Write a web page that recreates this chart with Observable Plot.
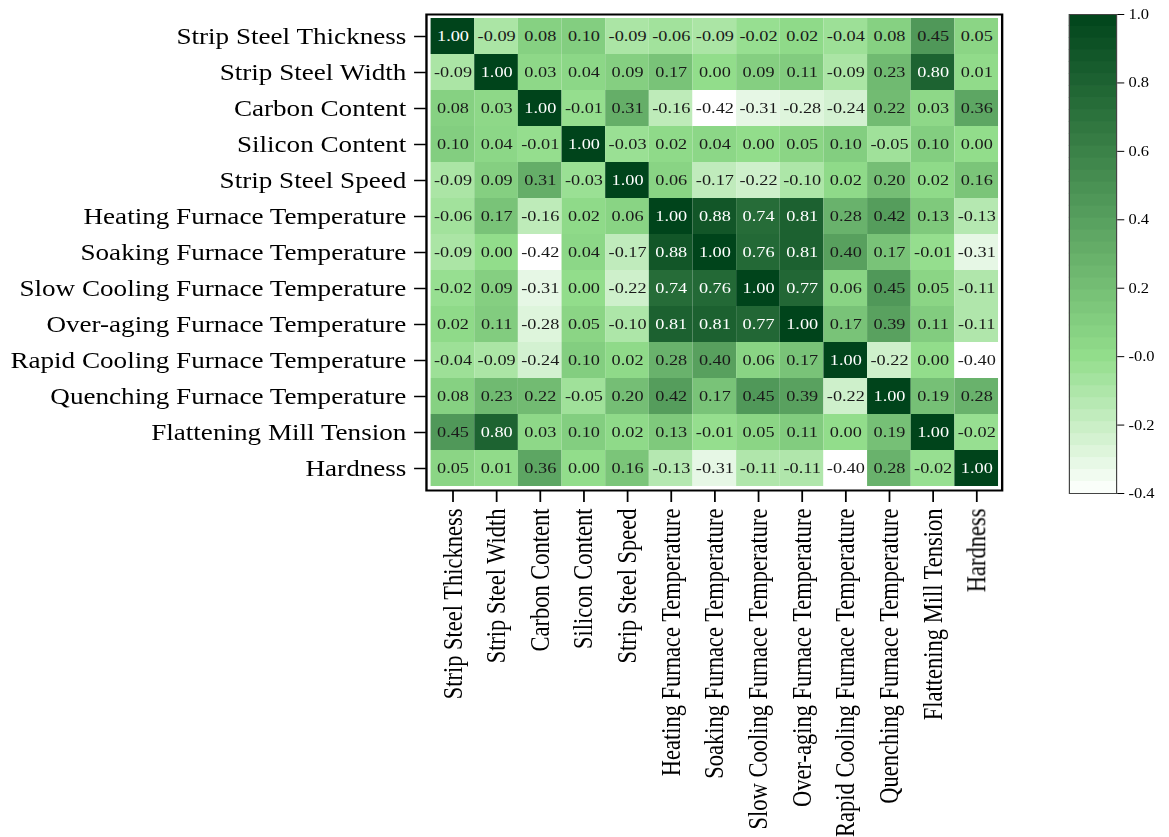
<!DOCTYPE html>
<html><head><meta charset="utf-8">
<script src="https://cdn.jsdelivr.net/npm/d3@7"></script>
<script src="https://cdn.jsdelivr.net/npm/@observablehq/plot@0.6"></script>
<style>
body{margin:0;background:#fff;overflow:hidden;}
#wrap{position:relative;width:991px;height:837px;transform:scaleX(1.1797);transform-origin:0 0;}
#wrap svg{position:absolute;left:0;top:0;background:transparent;}
</style></head><body><div id="wrap"></div>
<script>
const variables = [
  "Strip Steel Thickness","Strip Steel Width","Carbon Content","Silicon Content","Strip Steel Speed",
  "Heating Furnace Temperature","Soaking Furnace Temperature","Slow Cooling Furnace Temperature",
  "Over-aging Furnace Temperature","Rapid Cooling Furnace Temperature","Quenching Furnace Temperature",
  "Flattening Mill Tension","Hardness"
];
const rowThickness = [1.00,-0.09,0.08,0.10,-0.09,-0.06,-0.09,-0.02,0.02,-0.04,0.08,0.45,0.05];
const rowWidth     = [-0.09,1.00,0.03,0.04,0.09,0.17,0.00,0.09,0.11,-0.09,0.23,0.80,0.01];
const rowCarbon    = [0.08,0.03,1.00,-0.01,0.31,-0.16,-0.42,-0.31,-0.28,-0.24,0.22,0.03,0.36];
const rowSilicon   = [0.10,0.04,-0.01,1.00,-0.03,0.02,0.04,0.00,0.05,0.10,-0.05,0.10,0.00];
const rowSpeed     = [-0.09,0.09,0.31,-0.03,1.00,0.06,-0.17,-0.22,-0.10,0.02,0.20,0.02,0.16];
const rowHeating   = [-0.06,0.17,-0.16,0.02,0.06,1.00,0.88,0.74,0.81,0.28,0.42,0.13,-0.13];
const rowSoaking   = [-0.09,0.00,-0.42,0.04,-0.17,0.88,1.00,0.76,0.81,0.40,0.17,-0.01,-0.31];
const rowSlow      = [-0.02,0.09,-0.31,0.00,-0.22,0.74,0.76,1.00,0.77,0.06,0.45,0.05,-0.11];
const rowOverAging = [0.02,0.11,-0.28,0.05,-0.10,0.81,0.81,0.77,1.00,0.17,0.39,0.11,-0.11];
const rowRapid     = [-0.04,-0.09,-0.24,0.10,0.02,0.28,0.40,0.06,0.17,1.00,-0.22,0.00,-0.40];
const rowQuenching = [0.08,0.23,0.22,-0.05,0.20,0.42,0.17,0.45,0.39,-0.22,1.00,0.19,0.28];
const rowFlatten   = [0.45,0.80,0.03,0.10,0.02,0.13,-0.01,0.05,0.11,0.00,0.19,1.00,-0.02];
const rowHardness  = [0.05,0.01,0.36,0.00,0.16,-0.13,-0.31,-0.11,-0.11,-0.40,0.28,-0.02,1.00];
const matrix = [rowThickness,rowWidth,rowCarbon,rowSilicon,rowSpeed,rowHeating,rowSoaking,
  rowSlow,rowOverAging,rowRapid,rowQuenching,rowFlatten,rowHardness];

const colorTicks = [1.0,0.8,0.6,0.4,0.2,0,-0.2,-0.4];
const colorDomain = [-0.4, 0, 1];
const colorRange = ["#ffffff","#92dd8b","#00441b"];

const cells = [];
matrix.forEach((row, i) => row.forEach((v, j) => cells.push({row: variables[i], col: variables[j], v})));

const font = "'Liberation Serif','Times New Roman',serif";
const colorScale = {type: "linear", domain: colorDomain, range: colorRange};

const main = Plot.plot({
  width: 991, height: 837,
  marginLeft: 361, marginRight: 142, marginTop: 14, marginBottom: 347,
  style: {fontFamily: font, fontSize: "22.5px", color: "#000", background: "transparent"},
  x: {domain: variables, padding: 0, label: null},
  y: {domain: variables, padding: 0, label: null},
  color: colorScale,
  marks: [
    Plot.cell(cells, {x: "col", y: "row", fill: "v"}),
    Plot.text(cells.filter(d => d.v > 0.6), {x: "col", y: "row", text: d => d.v.toFixed(2), fill: "#ffffff", fontSize: 15.5}),
    Plot.text(cells.filter(d => d.v <= 0.6), {x: "col", y: "row", text: d => d.v.toFixed(2), fill: "#1a1a1a", fontSize: 15.5}),
    Plot.axisY({tickSize: 10, tickPadding: 7, fontSize: 23, label: null, strokeWidth: 1.5}),
    Plot.axisX({tickRotate: -90, tickSize: 12, tickPadding: 6, fontSize: 22.5, label: null, strokeWidth: 1.5}),
    Plot.frame({stroke: "#000", strokeWidth: 2})
  ]
});

const step = 0.035;
const steps = d3.range(-0.4, 1 - 1e-9, step);
const bar = Plot.plot({
  width: 991, height: 837,
  marginLeft: 906, marginRight: 45, marginTop: 14, marginBottom: 344,
  style: {fontFamily: font, fontSize: "14px", color: "#000", background: "transparent"},
  y: {domain: [-0.4, 1], ticks: colorTicks, tickFormat: d => Math.abs(d) < 1e-9 ? "-0.0" : d.toFixed(1),
      label: null, axis: "right", tickSize: 6, tickPadding: 4},
  color: colorScale,
  marks: [
    Plot.rect(steps, {y1: d => d, y2: d => Math.min(1, d + step + 0.002), fill: d => d + step / 2}),
    Plot.frame({stroke: "#444", strokeWidth: 1})
  ]
});

const wrap = document.getElementById("wrap");
wrap.appendChild(main);
wrap.appendChild(bar);
</script>
</body></html>
